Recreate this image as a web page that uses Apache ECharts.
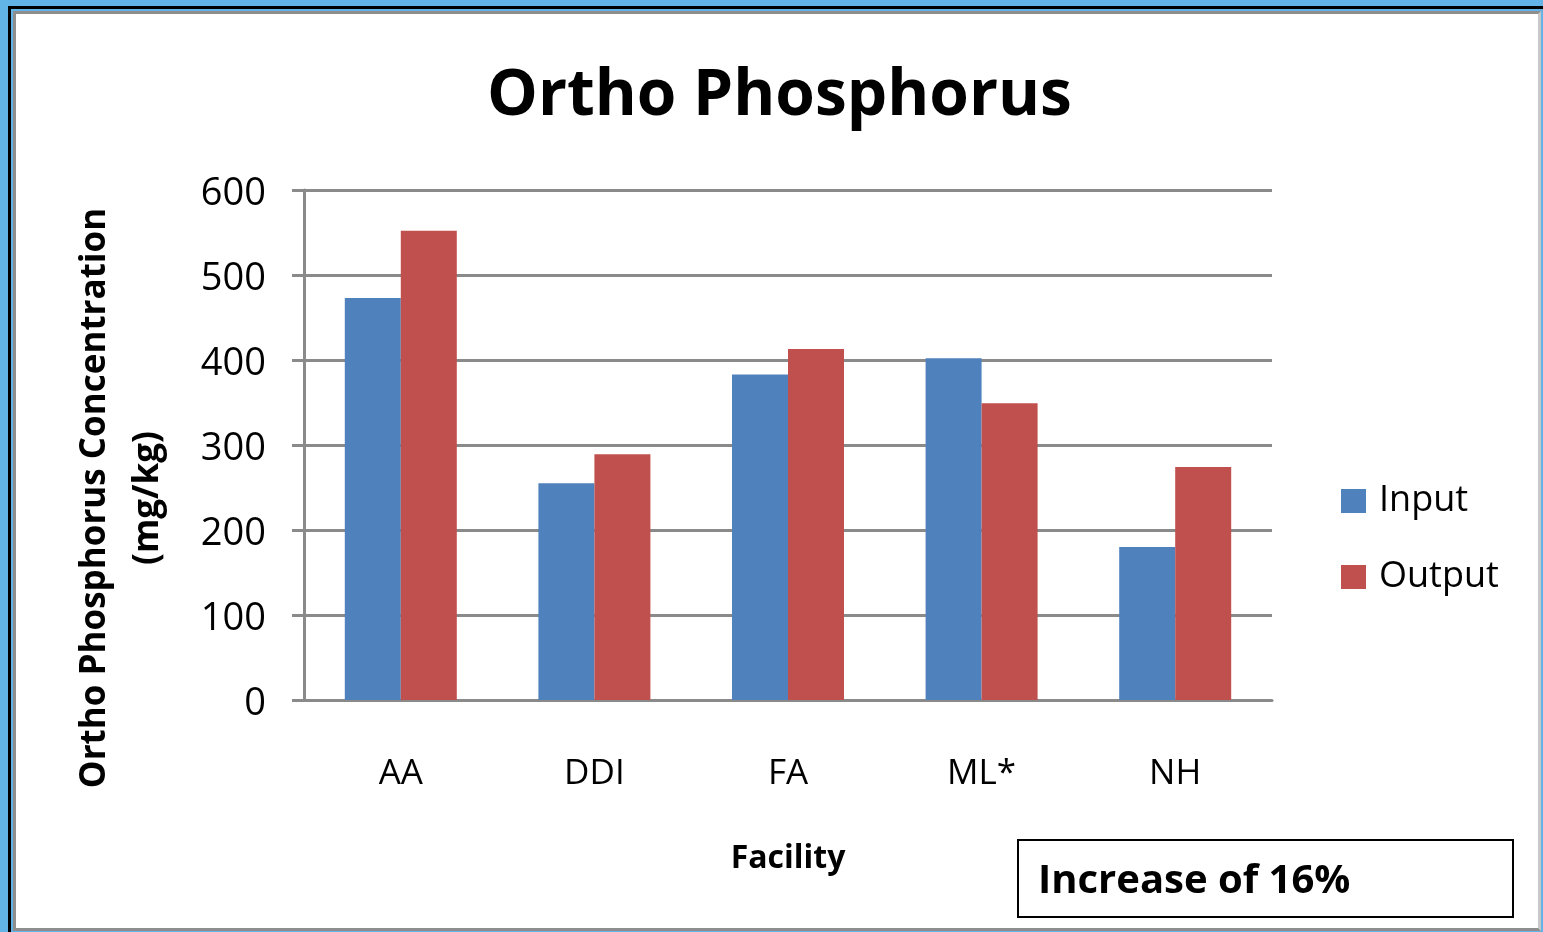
<!DOCTYPE html>
<html>
<head>
<meta charset="utf-8">
<script src="https://cdn.jsdelivr.net/npm/echarts@6/dist/echarts.min.js"></script>
<style>
  html, body { margin: 0; padding: 0; width: 1543px; height: 932px; overflow: hidden; background: #62b3e6; }
  #frame { position: absolute; left: 8px; top: 6px; width: 1600px; height: 1000px; border: 3px solid #000; box-sizing: border-box; }
  #panel { position: absolute; left: 13px; top: 11px; width: 1528px; height: 920px; border: 3px solid #8e8e8e; border-right-color: #c8c8c8; background: #fff; box-sizing: border-box; }
  #chart { position: absolute; left: 0; top: 0; width: 1543px; height: 932px; }
</style>
</head>
<body>
<div id="frame"></div>
<div id="panel"></div>
<div id="chart"></div>
<script>
var facilities = ['AA', 'DDI', 'FA', 'ML*', 'NH']
var inputValues = [473, 255, 383, 402, 180]
var outputValues = [552, 289, 413, 349, 274]
var seriesNames = ['Input', 'Output']

var font = "'Open Sans', 'Noto Sans', sans-serif"
var gridColor = '#8a8a8a'

var chart = echarts.init(document.getElementById('chart'))
chart.setOption({
  animation: false,
  title: {
    text: 'Ortho Phosphorus',
    left: 482,
    top: 60,
    textStyle: { fontFamily: font, fontSize: 64, fontWeight: 'bold', color: '#000' }
  },
  legend: {
    orient: 'vertical',
    left: 1336,
    top: 476,
    icon: 'rect',
    itemWidth: 25,
    itemHeight: 24,
    itemGap: 36,
    data: seriesNames,
    textStyle: { fontFamily: font, fontSize: 36, color: '#000', lineHeight: 40, padding: [0, 0, 0, 8] }
  },
  grid: {
    left: 304,
    right: 271,
    top: 190,
    bottom: 232,
    containLabel: false
  },
  xAxis: {
    type: 'category',
    data: facilities,
    name: 'Facility',
    nameLocation: 'middle',
    nameGap: 143,
    nameTextStyle: { fontFamily: font, fontSize: 32, fontWeight: 'bold', color: '#000' },
    axisLine: { lineStyle: { color: gridColor, width: 3 } },
    axisTick: { show: false },
    axisLabel: { fontFamily: font, fontSize: 35, color: '#000', margin: 57 }
  },
  yAxis: {
    type: 'value',
    min: 0,
    max: 600,
    interval: 100,
    axisLine: { show: true, lineStyle: { color: gridColor, width: 3 } },
    axisTick: { show: true, length: 12, lineStyle: { color: gridColor, width: 3 } },
    axisLabel: { fontFamily: font, fontSize: 38, color: '#000', margin: 38, lineHeight: 46, verticalAlign: 'top', padding: [-19, 0, 0, 0] },
    splitLine: { lineStyle: { color: gridColor, width: 3 } }
  },
  series: [
    {
      name: seriesNames[0],
      type: 'bar',
      data: inputValues,
      barWidth: 56,
      barGap: '0%',
      itemStyle: { color: '#4f81bd' }
    },
    {
      name: seriesNames[1],
      type: 'bar',
      data: outputValues,
      barWidth: 56,
      barGap: '0%',
      itemStyle: { color: '#c0504d' }
    }
  ],
  graphic: [
    {
      type: 'text',
      x: 95,
      y: 498,
      rotation: Math.PI / 2,
      style: {
        text: 'Ortho Phosphorus Concentration',
        fontFamily: font,
        fontSize: 35,
        fontWeight: 'bold',
        fill: '#000',
        align: 'center',
        verticalAlign: 'middle'
      }
    },
    {
      type: 'text',
      x: 148,
      y: 498,
      rotation: Math.PI / 2,
      style: {
        text: '(mg/kg)',
        fontFamily: font,
        fontSize: 35,
        fontWeight: 'bold',
        fill: '#000',
        align: 'center',
        verticalAlign: 'middle'
      }
    },
    {
      type: 'rect',
      shape: { x: 1018, y: 840, width: 495, height: 77 },
      style: { fill: '#fff', stroke: '#000', lineWidth: 2 }
    },
    {
      type: 'text',
      x: 1038,
      y: 882,
      style: {
        text: 'Increase of 16%',
        fontFamily: font,
        fontSize: 40,
        fontWeight: 'bold',
        fill: '#000',
        verticalAlign: 'middle'
      }
    }
  ]
})
</script>
</body>
</html>
